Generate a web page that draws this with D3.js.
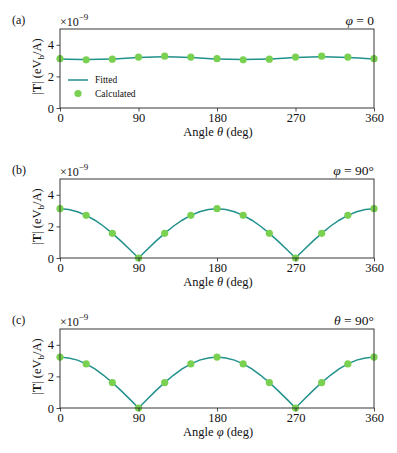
<!DOCTYPE html>
<html>
<head>
<meta charset="utf-8">
<script src="https://cdn.jsdelivr.net/npm/d3@7"></script>
<style>
  body { margin: 0; background: #fff; }
  svg { display: block; }
  text { font-family: "Liberation Serif", "DejaVu Serif", serif; fill: #111; }
</style>
</head>
<body>
<svg id="chart" width="397" height="453"></svg>
<script>
// sampled angles (deg)
const angles = [0, 30, 60, 90, 120, 150, 180, 210, 240, 270, 300, 330, 360];
const fitAngles = d3.range(0, 361, 10);

// calculated |T| values (x1e-9)
const calcA = [3.12, 3.05, 3.09, 3.22, 3.28, 3.22, 3.12, 3.05, 3.09, 3.22, 3.28, 3.22, 3.12];
const calcB = [3.12, 2.70, 1.56, 0, 1.56, 2.70, 3.12, 2.70, 1.56, 0, 1.56, 2.70, 3.12];
const calcC = [3.22, 2.79, 1.61, 0, 1.61, 2.79, 3.22, 2.79, 1.61, 0, 1.61, 2.79, 3.22];

// fitted curves
const fitA = [3.10, 3.07, 3.10, 3.20, 3.25, 3.20, 3.10, 3.07, 3.10, 3.20, 3.25, 3.20, 3.10];
const fitB = [3.12, 3.07, 2.93, 2.70, 2.39, 2.01, 1.56, 1.07, 0.54, 0,
              0.54, 1.07, 1.56, 2.01, 2.39, 2.70, 2.93, 3.07, 3.12,
              3.07, 2.93, 2.70, 2.39, 2.01, 1.56, 1.07, 0.54, 0,
              0.54, 1.07, 1.56, 2.01, 2.39, 2.70, 2.93, 3.07, 3.12];
const fitC = [3.22, 3.17, 3.03, 2.79, 2.47, 2.07, 1.61, 1.10, 0.56, 0,
              0.56, 1.10, 1.61, 2.07, 2.47, 2.79, 3.03, 3.17, 3.22,
              3.17, 3.03, 2.79, 2.47, 2.07, 1.61, 1.10, 0.56, 0,
              0.56, 1.10, 1.61, 2.07, 2.47, 2.79, 3.03, 3.17, 3.22];

const xTicks = [0, 90, 180, 270, 360];
const yTicks = [0, 2, 4];

const panels = [
  { tag: '(a)', note: ['φ', ' = 0'], xVar: 'θ', calc: calcA, fitX: angles, fit: fitA, legend: true, curve: d3.curveCatmullRom },
  { tag: '(b)', note: ['φ', ' = 90°'], xVar: 'θ', calc: calcB, fitX: fitAngles, fit: fitB, legend: false, curve: d3.curveLinear },
  { tag: '(c)', note: ['θ', ' = 90°'], xVar: 'φ', calc: calcC, fitX: fitAngles, fit: fitC, legend: false, curve: d3.curveLinear },
];

const lineColor = '#21918c';
const dotColor = '#7ad151';
const svg = d3.select('#chart');
const left = 60, right = 374, plotH = 79;

const x = d3.scaleLinear().domain([0, 360]).range([left, right]);

panels.forEach((p, i) => {
  const top = 29 + i * 150;
  const bottom = top + plotH;
  const y = d3.scaleLinear().domain([0, 5]).range([bottom, top]);
  const g = svg.append('g');

  // fitted line
  g.append('path')
    .datum(p.fitX.map((a, k) => [a, p.fit[k]]))
    .attr('fill', 'none')
    .attr('stroke', lineColor)
    .attr('stroke-width', 1.5)
    .attr('d', d3.line().x((d) => x(d[0])).y((d) => y(d[1])).curve(p.curve));

  // calculated points
  g.selectAll('circle.pt')
    .data(angles.map((a, k) => [a, p.calc[k]]))
    .join('circle')
    .attr('class', 'pt')
    .attr('cx', (d) => x(d[0]))
    .attr('cy', (d) => y(d[1]))
    .attr('r', 3.6)
    .attr('fill', dotColor);

  // axes
  const xAxis = g.append('g')
    .attr('transform', `translate(0,${bottom})`)
    .call(d3.axisBottom(x).tickValues(xTicks).tickFormat(d3.format('d')).tickSize(3.5).tickPadding(2));
  const yAxis = g.append('g')
    .attr('transform', `translate(${left},0)`)
    .call(d3.axisLeft(y).tickValues(yTicks).tickFormat(d3.format('d')).tickSize(3.5).tickPadding(2.5));
  [xAxis, yAxis].forEach((ax) => {
    ax.select('.domain').remove();
    ax.selectAll('line').attr('stroke', '#222').attr('stroke-width', 0.8);
    ax.selectAll('text').attr('font-size', 12.5).attr('fill', '#111')
      .style('font-family', '"Liberation Serif", serif');
  });

  // frame
  g.append('rect')
    .attr('x', left).attr('y', top)
    .attr('width', right - left).attr('height', plotH)
    .attr('fill', 'none').attr('stroke', '#222').attr('stroke-width', 0.9);

  // x label
  const xl = g.append('text')
    .attr('x', (left + right) / 2 + 1).attr('y', bottom + 28)
    .attr('text-anchor', 'middle').attr('font-size', 12.5);
  xl.append('tspan').text('Angle ');
  xl.append('tspan').attr('font-style', 'italic').text(p.xVar);
  xl.append('tspan').text(' (deg)');

  // y label
  const yl = g.append('text')
    .attr('transform', `translate(41,${(top + bottom) / 2 - 2}) rotate(-90)`)
    .attr('text-anchor', 'middle').attr('font-size', 12.5);
  yl.append('tspan').text('|');
  yl.append('tspan').attr('font-weight', 'bold').text('T');
  yl.append('tspan').text('| (eV');
  yl.append('tspan').attr('font-size', 9).attr('dy', 3).text('b');
  yl.append('tspan').attr('dy', -3).text('/A)');

  // panel tag
  g.append('text').attr('x', 12).attr('y', top - 5).attr('font-size', 12).text(p.tag);

  // multiplier
  const m = g.append('text').attr('x', left).attr('y', top - 3).attr('font-size', 12);
  m.append('tspan').text('×10');
  m.append('tspan').attr('font-size', 9).attr('dy', -6).text('−9');

  // condition note
  const n = g.append('text').attr('x', right).attr('y', top - 4)
    .attr('text-anchor', 'end').attr('font-size', 13.5);
  n.append('tspan').attr('font-style', 'italic').text(p.note[0]);
  n.append('tspan').text(p.note[1]);

  // legend
  if (p.legend) {
    const lg = g.append('g').attr('transform', `translate(68,${top + 51})`);
    lg.append('line').attr('x1', 0).attr('x2', 20).attr('y1', 0).attr('y2', 0)
      .attr('stroke', lineColor).attr('stroke-width', 1.5);
    lg.append('text').attr('x', 27).attr('y', 3).attr('font-size', 9.5).text('Fitted');
    lg.append('circle').attr('cx', 10).attr('cy', 13.5).attr('r', 3.6).attr('fill', dotColor);
    lg.append('text').attr('x', 27).attr('y', 16.5).attr('font-size', 9.5).text('Calculated');
  }
});
</script>
</body>
</html>
